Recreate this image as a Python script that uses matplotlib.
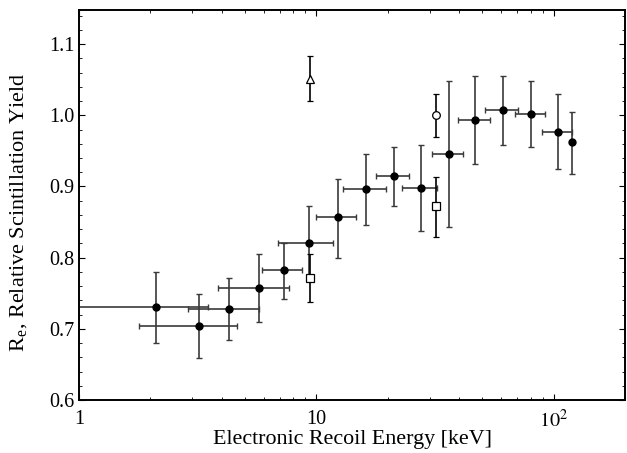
import matplotlib
matplotlib.use("Agg")
import matplotlib.pyplot as plt
import numpy as np
from matplotlib.ticker import LogLocator, MultipleLocator, FixedLocator, FixedFormatter

plt.rcParams['font.family'] = ['Liberation Serif', 'DejaVu Serif']
plt.rcParams['mathtext.fontset'] = 'stix'

# Filled circles: energy (keV), x error bounds, yield, y error bounds
energy = [2.11, 3.19, 4.27, 5.76, 7.34, 9.35, 12.3, 16.2, 21.3, 27.6, 36.2, 46.6, 61.1, 80.0, 104, 120]
e_lo   = [0.5, 1.79, 2.87, 3.84, 5.93, 6.92, 10.0, 12.9, 17.9, 23.0, 30.7, 39.5, 51.3, 68.6, 89.1, 120]
e_hi   = [3.48, 4.61, 5.76, 7.7, 8.73, 11.8, 14.7, 19.7, 24.6, 32.2, 41.5, 53.8, 70.6, 91.6, 119, 120]
yld    = [0.730, 0.704, 0.728, 0.757, 0.782, 0.820, 0.857, 0.896, 0.915, 0.898, 0.946, 0.994, 1.007, 1.002, 0.977, 0.962]
y_lo   = [0.680, 0.659, 0.684, 0.710, 0.742, 0.768, 0.800, 0.846, 0.873, 0.837, 0.843, 0.932, 0.958, 0.955, 0.924, 0.917]
y_hi   = [0.780, 0.749, 0.772, 0.805, 0.821, 0.872, 0.910, 0.946, 0.955, 0.958, 1.048, 1.055, 1.055, 1.048, 1.030, 1.004]

# Open squares
sq_e  = [9.44, 31.9]
sq_y  = [0.772, 0.872]
sq_lo = [0.737, 0.829]
sq_hi = [0.805, 0.913]

# Open circle
oc_e, oc_y, oc_lo, oc_hi = [32.0], [1.000], [0.969], [1.030]

# Open triangle
tr_e, tr_y, tr_lo, tr_hi = [9.44], [1.051], [1.020], [1.083]

fig = plt.figure(figsize=(6.27, 4.53), dpi=100)
ax = fig.add_axes([0.126, 0.117, 0.871, 0.861])

E = np.array(energy); Y = np.array(yld)
xerr = np.vstack([E - np.array(e_lo), np.array(e_hi) - E])
yerr = np.vstack([Y - np.array(y_lo), np.array(y_hi) - Y])
ecol = '#3a3a3a'
ax.errorbar(E, Y, xerr=xerr, yerr=yerr, fmt='o', color='black', ms=5,
            ecolor=ecol, elinewidth=1.2, capsize=2, capthick=1.0)

def open_pts(x, y, lo, hi, marker, ms):
    x = np.array(x); y = np.array(y)
    ye = np.vstack([y - np.array(lo), np.array(hi) - y])
    ax.errorbar(x, y, yerr=ye, fmt=marker, mfc='white', mec='black', ms=ms,
                mew=0.9, ecolor='black', elinewidth=1.2, capsize=2, capthick=1.0, zorder=3)

open_pts(sq_e, sq_y, sq_lo, sq_hi, 's', 5.5)
open_pts(oc_e, oc_y, oc_lo, oc_hi, 'o', 5.5)
open_pts(tr_e, tr_y, tr_lo, tr_hi, '^', 5.5)

ax.set_xscale('log')
ax.set_xlim(1, 200)
ax.set_ylim(0.6, 1.148)

ax.xaxis.set_major_locator(FixedLocator([1, 10, 100]))
ax.xaxis.set_major_formatter(FixedFormatter(['1', '10', r'$10^2$']))
ax.xaxis.set_minor_locator(LogLocator(base=10, subs=np.arange(2, 10)))
ax.xaxis.set_minor_formatter(plt.NullFormatter())
ax.yaxis.set_major_locator(MultipleLocator(0.1))
ax.yaxis.set_minor_locator(MultipleLocator(0.02))
ax.yaxis.set_major_formatter(plt.FuncFormatter(lambda v, p: f'{v:.1f}'))

ax.tick_params(which='both', direction='in', top=True, right=True, labelsize=14.5)
ax.tick_params(which='major', length=4.5, width=0.8)
ax.tick_params(which='minor', length=2.5, width=0.6)
ax.tick_params(axis='x', pad=7)
ax.tick_params(axis='y', pad=3)
for s in ax.spines.values():
    s.set_linewidth(1.4)

ax.set_xlabel('Electronic Recoil Energy [keV]', fontsize=15.8, labelpad=-1)
ax.set_ylabel(r'R$_\mathregular{e}$, Relative Scintillation Yield', fontsize=16, labelpad=12)
ax.yaxis.set_label_coords(-0.092, 0.48)

fig.savefig('out.png', dpi=100)
